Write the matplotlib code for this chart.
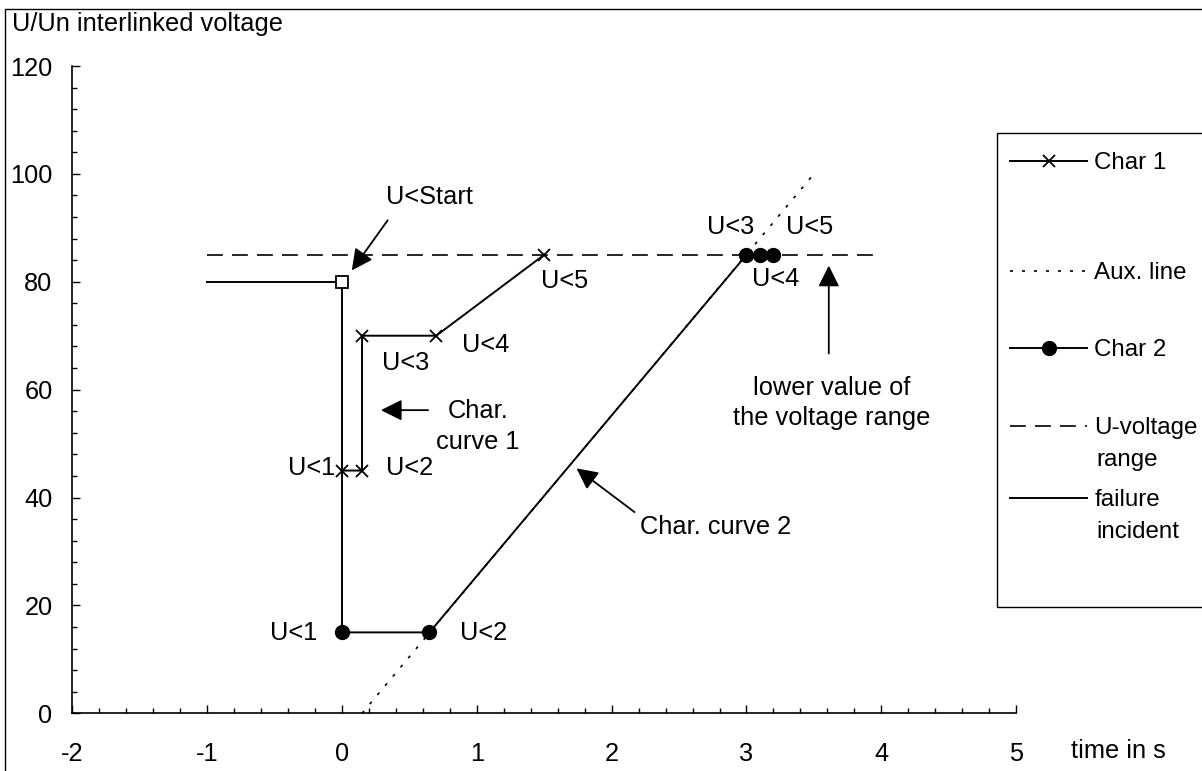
import matplotlib
matplotlib.use('Agg')
import matplotlib.pyplot as plt
from matplotlib.patches import Rectangle

plt.rcParams['font.family'] = ['Liberation Sans', 'DejaVu Sans']
plt.rcParams['axes.unicode_minus'] = False
fs = 18.3
lfs = 17.4

# ---- data (time in s, U/Un in %) ----
char1_t = [0.0, 0.15, 0.15, 0.7, 1.5]
char1_u = [45, 45, 70, 70, 85]
char1_lab = ['U<1', 'U<2', 'U<3', 'U<4', 'U<5']

char2_t = [0.0, 0.65, 3.0, 3.1, 3.2]
char2_u = [15, 15, 85, 85, 85]
char2_lab = ['U<1', 'U<2', 'U<3', 'U<4', 'U<5']

aux_t = [0.15, 3.5]
aux_u = [0, 100]

range_t = [-1, 4]
range_u = [85, 85]

fail_t = [-1, 0, 0]
fail_u = [80, 80, 15]

start_t = [0]
start_u = [80]

# label positions next to each point (data units) and alignment
char1_txt = [(-0.05, 45.4, 'right'), (0.33, 45.4, 'left'), (0.30, 64.9, 'left'),
             (0.89, 68.2, 'left'), (1.48, 80.2, 'left')]
char2_txt = [(-0.18, 14.9, 'right'), (0.875, 14.9, 'left'), (2.71, 90.1, 'left'),
             (3.04, 80.6, 'left'), (3.29, 90.1, 'left')]

#####

W, H = 1202, 771
fig = plt.figure(figsize=(W/100., H/100.), dpi=100)
ax = fig.add_axes([72./W, 1-713.3/H, 944.3/W, 647.3/H])

lw = 1.4
h_aux, = ax.plot(aux_t, aux_u, color='black', lw=1.2, linestyle=(0, (1.8, 5.4)))
h_rng, = ax.plot(range_t, range_u, color='black', lw=1.2, linestyle=(0, (9.5, 5.5)))
h_fail, = ax.plot(fail_t, fail_u, color='black', lw=lw)
h_c1, = ax.plot(char1_t, char1_u, color='black', lw=lw, marker='x', ms=8.5, mew=1.3)
h_c2, = ax.plot(char2_t, char2_u, color='black', lw=lw, marker='o', ms=10)
ax.plot(start_t, start_u, linestyle='none', marker='s', ms=8.5, mfc='white', mec='black', mew=1.3)

for (x, y, ha), lab in zip(char1_txt, char1_lab):
    ax.text(x, y, lab, ha=ha, va='center', fontsize=fs)
for (x, y, ha), lab in zip(char2_txt, char2_lab):
    ax.text(x, y, lab, ha=ha, va='center', fontsize=fs)

# annotations
aprops = dict(arrowstyle='-|>,head_length=0.4,head_width=0.2', color='black',
              lw=1.3, mutation_scale=32, shrinkA=0, shrinkB=0)
ax.annotate('', xy=(0.074, 82.1), xytext=(0.34, 91.4), arrowprops=aprops)
ax.text(0.65, 95.7, 'U<Start', ha='center', va='center', fontsize=fs)

ax.annotate('', xy=(0.29, 56.2), xytext=(0.64, 56.2), arrowprops=aprops)
ax.text(1.01, 53.2, 'Char.\ncurve 1', ha='center', va='center', fontsize=fs,
        multialignment='center', linespacing=1.4)

ax.annotate('', xy=(1.74, 45.4), xytext=(2.17, 37.3), arrowprops=aprops)
ax.text(2.77, 34.6, 'Char. curve 2', ha='center', va='center', fontsize=fs)

ax.annotate('', xy=(3.61, 83.0), xytext=(3.61, 66.7), arrowprops=aprops)
ax.text(3.63, 57.5, 'lower value of\nthe voltage range', ha='center', va='center',
        fontsize=fs, multialignment='center', linespacing=1.35)

# axes
ax.set_xlim(-2, 5)
ax.set_ylim(0, 120)
ax.set_xticks(range(-2, 6))
ax.set_xticks([-2 + 0.2*i for i in range(36)], minor=True)
ax.set_yticks(range(0, 121, 20))
ax.set_yticks(range(0, 121, 4), minor=True)
for s in ['top', 'right']:
    ax.spines[s].set_visible(False)
for s in ['left', 'bottom']:
    ax.spines[s].set_linewidth(1.2)
ax.tick_params(axis='both', which='both', direction='in', width=1.0, labelsize=fs)
ax.tick_params(axis='both', which='major', length=5.5)
ax.tick_params(axis='both', which='minor', length=3.8)
ax.tick_params(axis='x', which='major', pad=21)
ax.tick_params(axis='y', which='major', pad=14)

ax.set_xlabel('time in s', fontsize=fs, ha='left', va='center')
ax.xaxis.set_label_coords((1071-72)/944.3, (713.3-751)/647.3)
ax.set_ylabel('U/Un interlinked voltage', fontsize=fs, rotation=0, ha='left', va='center')
ax.yaxis.set_label_coords((12-72)/944.3, (713.3-24)/647.3)

# legend: one entry per box so the uneven spacing of the original is kept
entries = [(h_c1, 'Char 1', 163, None), (h_aux, 'Aux. line', 273, None),
           (h_c2, 'Char 2', 350, None), (h_rng, 'U-voltage', 428, 'range'),
           (h_fail, 'failure', 500, 'incident')]
hl = 77. / (lfs*100/72.)
for h, lab, ypix, extra in entries:
    leg = ax.legend([h], [lab], loc='center left', bbox_to_anchor=(1010./W, 1-ypix/H),
                    bbox_transform=fig.transFigure, frameon=False, borderpad=0,
                    borderaxespad=0, handlelength=hl, handletextpad=0.3,
                    fontsize=lfs, numpoints=1)
    ax.add_artist(leg)
    if extra:
        fig.text(1096./W, 1-(ypix+32)/H, extra, fontsize=lfs, ha='left', va='center')
ax.legend_ = None  # all entries already added as artists

fig.patches.append(Rectangle((997./W, 1-607./H), 0.3, (607.-133.)/H, transform=fig.transFigure,
                             fill=False, edgecolor='black', lw=1.0))
fig.patches.append(Rectangle((5./W, -0.1), 1.2, 1.1 - 9.3/H, transform=fig.transFigure,
                             fill=False, edgecolor='black', lw=1.0))

fig.savefig('out.png', dpi=100)
